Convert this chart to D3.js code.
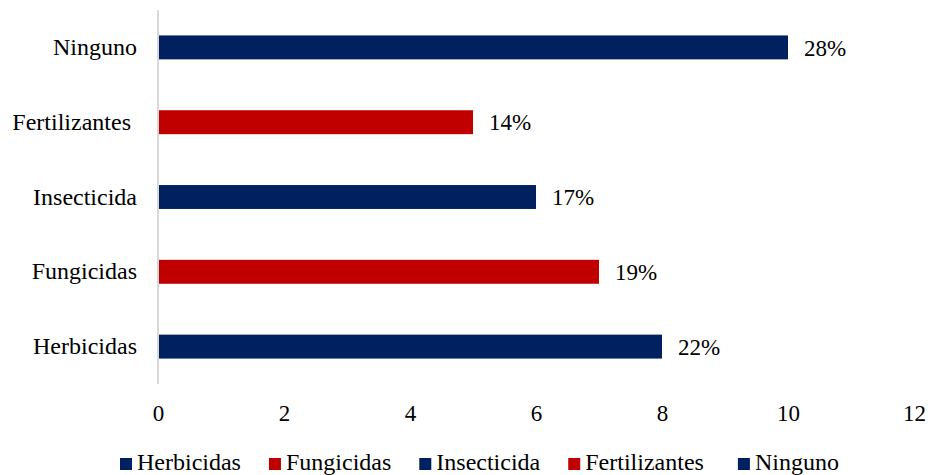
<!DOCTYPE html>
<html>
<head>
<meta charset="utf-8">
<script src="https://cdn.jsdelivr.net/npm/d3@7"></script>
<style>
  html, body { margin: 0; padding: 0; background: #fff; }
  svg { display: block; }
  svg text { font-family: "Liberation Serif", "Times New Roman", Times, "DejaVu Serif", serif; fill: #000; white-space: pre; }
</style>
</head>
<body>
<svg id="chart" width="932" height="475"></svg>
<script>
// Categories, bottom to top as drawn
const categories = ["Herbicidas", "Fungicidas", "Insecticida", "Fertilizantes ", "Ninguno"];
const values = [8, 7, 6, 5, 10];
const percentLabels = ["22%", "19%", "17%", "14%", "28%"];
const barColors = ["#002060", "#C00000", "#002060", "#C00000", "#002060"];
const xTicks = [0, 2, 4, 6, 8, 10, 12];

const FONT = '"Liberation Serif", "Times New Roman", Times, "DejaVu Serif", serif';
const svg = d3.select("#chart");
const plot = { left: 158, right: 914, top: 10, bottom: 384 };

const x = d3.scaleLinear().domain([0, 12]).range([plot.left, plot.right]);
const y = d3.scaleBand()
  .domain(categories.slice().reverse())
  .range([plot.top, plot.bottom])
  .paddingInner(0.68)
  .paddingOuter(0.34);

// Bars
svg.append("g").selectAll("rect")
  .data(categories)
  .join("rect")
  .attr("x", x(0))
  .attr("y", d => y(d))
  .attr("width", (d, i) => x(values[i]) - x(0))
  .attr("height", y.bandwidth())
  .attr("fill", (d, i) => barColors[i]);

// Vertical category axis line
svg.append("line")
  .attr("x1", x(0)).attr("x2", x(0))
  .attr("y1", plot.top).attr("y2", plot.bottom)
  .attr("stroke", "#D9D9D9")
  .attr("stroke-width", 2);

// Category labels
const yAxis = d3.axisLeft(y).tickSize(0).tickPadding(21);
const gy = svg.append("g").attr("transform", `translate(${x(0)},0)`).call(yAxis);
gy.attr("font-family", FONT).attr("font-size", 24);
gy.select(".domain").remove();
gy.selectAll("text").attr("fill", "#000");

// Value axis labels
const xAxis = d3.axisBottom(x).tickValues(xTicks).tickSize(0).tickPadding(0);
const gx = svg.append("g").attr("transform", `translate(0,${plot.bottom + 21})`).call(xAxis);
gx.attr("font-family", FONT).attr("font-size", 23);
gx.select(".domain").remove();
gx.selectAll("text").attr("fill", "#000");

// Percentage labels at bar ends
svg.append("g")
  .attr("font-family", FONT).attr("font-size", 23)
  .selectAll("text")
  .data(categories)
  .join("text")
  .attr("x", (d, i) => x(values[i]) + 16)
  .attr("y", d => y(d) + y.bandwidth() / 2)
  .attr("dy", "0.36em")
  .text((d, i) => percentLabels[i]);

// Legend
const legend = svg.append("g").attr("font-family", FONT).attr("font-size", 24);
const legendBaseline = 470;
const items = legend.selectAll("g")
  .data(categories)
  .join("g");
items.append("rect")
  .attr("width", 12).attr("height", 12)
  .attr("y", legendBaseline - 12)
  .attr("fill", (d, i) => barColors[i]);
items.append("text")
  .attr("x", 17)
  .attr("y", legendBaseline)
  .text(d => d);

let cursor = 0;
const offsets = [];
items.each(function () {
  offsets.push(cursor);
  const w = this.querySelector("text").getComputedTextLength();
  cursor += 17 + w + 28;
});
const startX = 120;
items.attr("transform", (d, i) => `translate(${startX + offsets[i]},0)`);
</script>
</body>
</html>
